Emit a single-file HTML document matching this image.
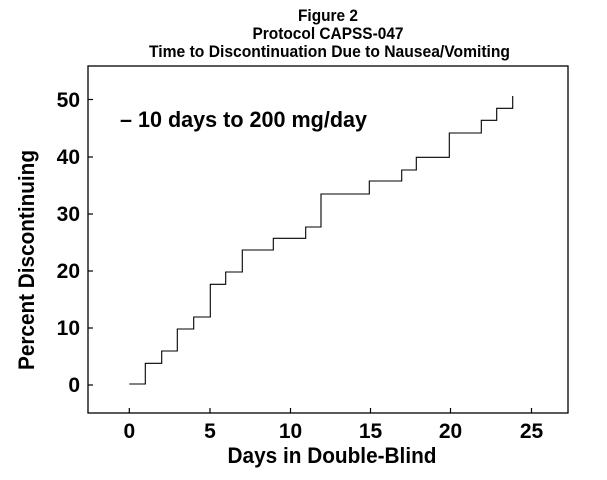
<!DOCTYPE html>
<html><head><style>
html,body{margin:0;padding:0;background:#fff;}
svg{display:block;}
text{font-family:"Liberation Sans",Arial,sans-serif;fill:#000;}
</style></head><body>
<svg width="607" height="480" viewBox="0 0 607 480" xmlns="http://www.w3.org/2000/svg">
<g font-size="17" font-weight="bold" text-anchor="middle">
<text x="328" y="21" textLength="60" lengthAdjust="spacingAndGlyphs">Figure 2</text>
<text x="328" y="39" textLength="151" lengthAdjust="spacingAndGlyphs">Protocol CAPSS-047</text>
<text x="329.5" y="57" textLength="361" lengthAdjust="spacingAndGlyphs">Time to Discontinuation Due to Nausea/Vomiting</text>
</g>
<rect x="88" y="66" width="480" height="347" fill="none" stroke="#000" stroke-width="1.3"/>
<g stroke="#000" stroke-width="1.2">
<line x1="88" y1="385" x2="93" y2="385"/><line x1="88" y1="328" x2="93" y2="328"/>
<line x1="88" y1="271" x2="93" y2="271"/><line x1="88" y1="214" x2="93" y2="214"/>
<line x1="88" y1="157" x2="93" y2="157"/><line x1="88" y1="99.5" x2="93" y2="99.5"/>
<line x1="129.3" y1="413" x2="129.3" y2="408"/><line x1="210" y1="413" x2="210" y2="408"/>
<line x1="290.5" y1="413" x2="290.5" y2="408"/><line x1="370.5" y1="413" x2="370.5" y2="408"/>
<line x1="450.5" y1="413" x2="450.5" y2="408"/><line x1="531.5" y1="413" x2="531.5" y2="408"/>
</g>
<g font-size="21" font-weight="bold" text-anchor="end">
<text x="80" y="392">0</text><text x="80" y="335">10</text><text x="80" y="278">20</text>
<text x="80" y="221">30</text><text x="80" y="164">40</text><text x="80" y="107">50</text>
</g>
<g font-size="21" font-weight="bold" text-anchor="middle">
<text x="129.3" y="438">0</text><text x="210" y="438">5</text><text x="290.5" y="438">10</text>
<text x="370.5" y="438">15</text><text x="450.5" y="438">20</text><text x="531.5" y="438">25</text>
</g>
<text x="332" y="463" font-size="22" font-weight="bold" text-anchor="middle" textLength="209" lengthAdjust="spacingAndGlyphs">Days in Double-Blind</text>
<text transform="translate(34,260) rotate(-90)" font-size="22" font-weight="bold" text-anchor="middle" textLength="220" lengthAdjust="spacingAndGlyphs">Percent Discontinuing</text>
<text x="120" y="127" font-size="22" font-weight="bold" textLength="247" lengthAdjust="spacingAndGlyphs">– 10 days to 200 mg/day</text>
<polyline fill="none" stroke="#000" stroke-width="1.1" points="129.3,384 145.3,384 145.3,363.3 161.7,363.3 161.7,351 177.3,351 177.3,329 193.7,329 193.7,317 210.3,317 210.3,284.3 225.7,284.3 225.7,272 242.3,272 242.3,250 273.3,250 273.3,238.3 305.7,238.3 305.7,227 321,227 321,194 369.3,194 369.3,181 401.7,181 401.7,170 416.3,170 416.3,157.3 449.3,157.3 449.3,133 481.3,133 481.3,120.3 496.7,120.3 496.7,108.3 512.7,108.3 512.7,96"/>
</svg>
</body></html>
